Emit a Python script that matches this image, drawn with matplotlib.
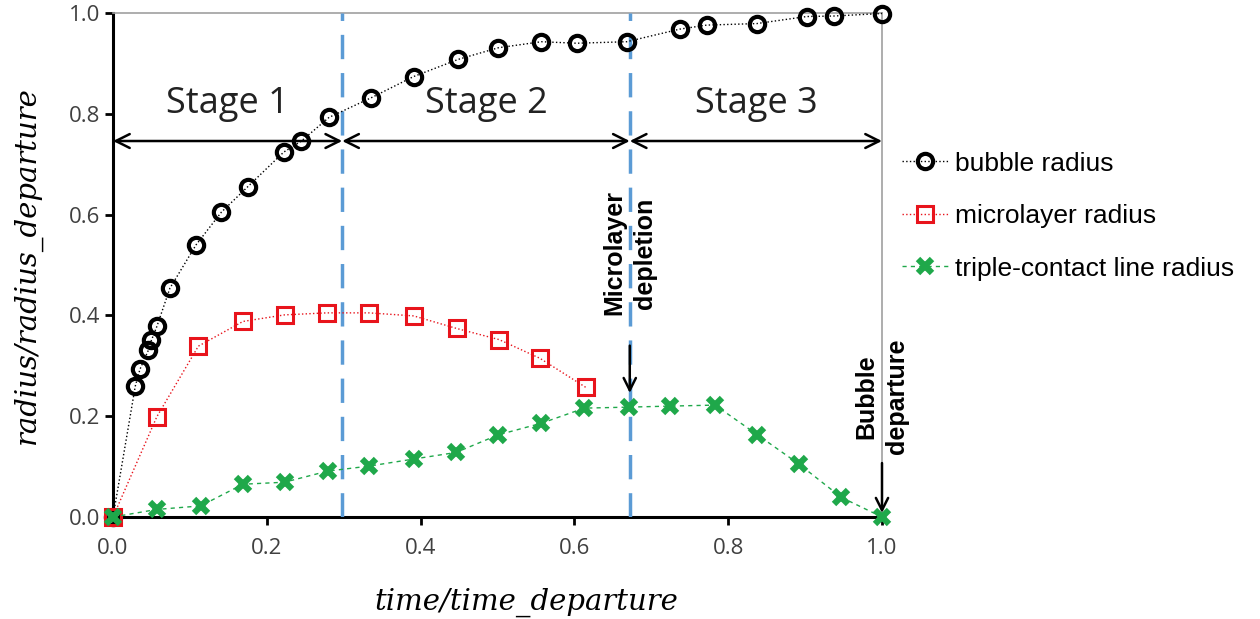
import matplotlib
matplotlib.use('Agg')
import matplotlib.pyplot as plt

# bubble radius
bub_t = [0.0, 0.029, 0.035, 0.046, 0.050, 0.057, 0.074, 0.108, 0.141, 0.175, 0.222, 0.245, 0.281,
         0.336, 0.391, 0.449, 0.501, 0.557, 0.603, 0.668, 0.737, 0.772, 0.837, 0.902, 0.937, 1.0]
bub_r = [0.0, 0.26, 0.293, 0.331, 0.351, 0.378, 0.454, 0.540, 0.605, 0.655, 0.724, 0.746, 0.793,
         0.832, 0.874, 0.908, 0.931, 0.943, 0.940, 0.943, 0.968, 0.976, 0.979, 0.993, 0.994, 0.999]

# microlayer radius
ml_t = [0.0, 0.057, 0.111, 0.169, 0.223, 0.278, 0.333, 0.391, 0.447, 0.502, 0.555, 0.615]
ml_r = [0.0, 0.199, 0.339, 0.388, 0.401, 0.405, 0.405, 0.399, 0.374, 0.352, 0.315, 0.257]

# triple-contact line radius
cl_t = [0.0, 0.057, 0.114, 0.169, 0.223, 0.279, 0.333, 0.391, 0.446, 0.501, 0.557, 0.613,
        0.671, 0.724, 0.783, 0.838, 0.892, 0.947, 1.0]
cl_r = [0.0, 0.015, 0.022, 0.065, 0.069, 0.091, 0.101, 0.115, 0.128, 0.163, 0.186, 0.216,
        0.218, 0.220, 0.222, 0.163, 0.105, 0.039, 0.0]

stage_bounds = [0.0, 0.298, 0.672, 1.0]
stage_labels = ['Stage 1', 'Stage 2', 'Stage 3']

fig = plt.figure(figsize=(12.6, 6.19), dpi=100)
ax = fig.add_axes([0.0897, 0.1648, 0.6103, 0.8142])

ax.plot(bub_t, bub_r, color='black', linestyle=':', linewidth=1.0, marker='o', markersize=11,
        markerfacecolor='none', markeredgecolor='black', markeredgewidth=3.0, label='bubble radius',
        clip_on=False, zorder=5)
ax.plot(ml_t, ml_r, color='#e8141c', linestyle=':', linewidth=1.0, marker='s', markersize=11,
        markerfacecolor='none', markeredgecolor='#e8141c', markeredgewidth=2.2, label='microlayer radius',
        clip_on=False, zorder=5)
ax.plot(cl_t, cl_r, color='#1fa84a', linestyle=(0, (3, 3)), linewidth=1.0, marker='x', markersize=10,
        markeredgecolor='#1fa84a', markeredgewidth=4.5, label='triple-contact line radius',
        clip_on=False, zorder=5)

# stage dividers
for xv in stage_bounds[1:3]:
    ax.axvline(xv, color='#5b9bd5', linewidth=2.5, linestyle=(0, (7, 4)), zorder=3)

# stage arrows and labels
for i in range(3):
    ax.annotate('', xy=(stage_bounds[i], 0.746), xytext=(stage_bounds[i + 1], 0.746),
                arrowprops=dict(arrowstyle='<->', color='black', lw=1.8, shrinkA=0, shrinkB=0,
                                mutation_scale=25))
    ax.text((stage_bounds[i] + stage_bounds[i + 1]) / 2, 0.82, stage_labels[i], fontsize=26,
            family='Open Sans', ha='center', va='center', color='#222222')

# event annotations
ax.annotate('', xy=(0.672, 0.246), xytext=(0.672, 0.34),
            arrowprops=dict(arrowstyle='->', color='black', lw=1.8, shrinkA=0, shrinkB=0,
                            mutation_scale=22))
ax.text(0.672, 0.40, 'Microlayer\ndepletion', rotation=90, ha='center', va='bottom', fontsize=18,
        fontweight='bold', family='Liberation Sans', linespacing=1.35)
ax.annotate('', xy=(1.0, 0.008), xytext=(1.0, 0.107),
            arrowprops=dict(arrowstyle='->', color='black', lw=1.8, shrinkA=0, shrinkB=0,
                            mutation_scale=22), annotation_clip=False)
ax.text(1.0, 0.125, 'Bubble\ndeparture', rotation=90, ha='center', va='bottom', fontsize=18,
        fontweight='bold', family='Liberation Sans', linespacing=1.35)

ax.set_xlim(0, 1.0)
ax.set_ylim(0, 1.0)
ax.set_xticks([0.0, 0.2, 0.4, 0.6, 0.8, 1.0])
ax.set_yticks([0.0, 0.2, 0.4, 0.6, 0.8, 1.0])
ax.set_xticklabels(['0.0', '0.2', '0.4', '0.6', '0.8', '1.0'])
ax.set_yticklabels(['0.0', '0.2', '0.4', '0.6', '0.8', '1.0'])
ax.tick_params(direction='out', length=6, width=2, labelsize=16, colors='black', labelcolor='#404040')
ax.tick_params(axis='x', pad=9)
for lab in ax.get_xticklabels() + ax.get_yticklabels():
    lab.set_family('Open Sans')

for s in ['left', 'bottom']:
    ax.spines[s].set_linewidth(2.2)
    ax.spines[s].set_color('black')
for s in ['top', 'right']:
    ax.spines[s].set_linewidth(1.2)
    ax.spines[s].set_color('#a0a0a0')

ax.set_xlabel('time/time_departure', fontsize=21, family='DejaVu Serif', style='italic')
ax.xaxis.set_label_coords(0.538, -0.14)
ax.set_ylabel('radius/radius_departure', fontsize=21, family='DejaVu Serif', style='italic', labelpad=19)

leg = ax.legend(loc='center left', bbox_to_anchor=(0.995, 0.597), frameon=False,
                handlelength=1.75, handletextpad=0.25, labelspacing=1.08,
                prop={'family': 'Liberation Sans', 'size': 19})

fig.savefig('out.png', dpi=100)
